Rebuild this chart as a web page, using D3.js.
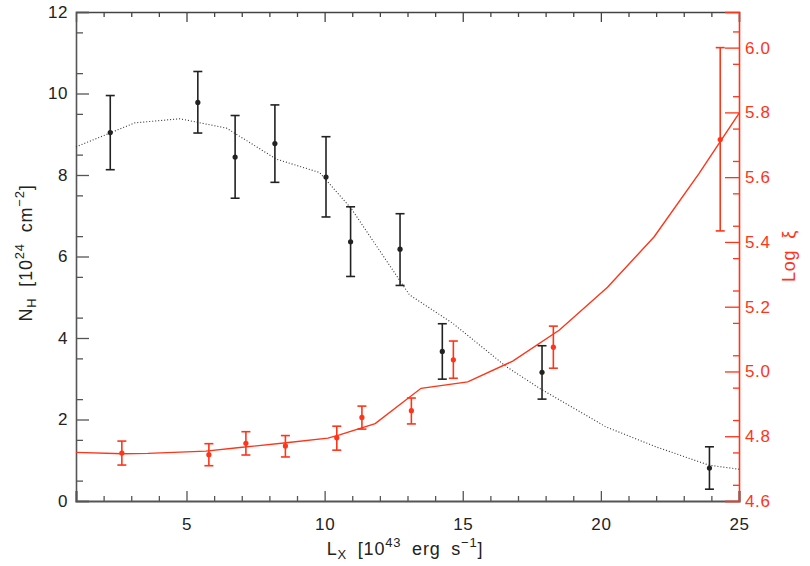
<!DOCTYPE html>
<html>
<head>
<meta charset="utf-8">
<style>
  body { margin: 0; background: #fff; }
  svg text { font-family: "Liberation Sans", Arial, sans-serif; }
  .tick text { font-size: 17px; letter-spacing: 0.6px; }
  .title { letter-spacing: 0.8px; word-spacing: 5px; }
</style>
<script src="https://cdn.jsdelivr.net/npm/d3@7"></script>
</head>
<body>
<div id="chart"></div>
<script>
// N_H measurements (black, left axis)
var nhL   = [2.24, 5.41, 6.76, 8.20, 10.05, 10.94, 12.73, 14.26, 17.87, 23.93];
var nhVal = [9.04, 9.78, 8.44, 8.77, 7.95, 6.36, 6.18, 3.67, 3.16, 0.81];
var nhLo  = [8.13, 9.03, 7.43, 7.82, 6.97, 5.51, 5.29, 2.99, 2.50, 0.29];
var nhHi  = [9.95, 10.54, 9.46, 9.72, 8.94, 7.22, 7.05, 4.35, 3.81, 1.33];

// log xi measurements (red, right axis)
var xiL   = [2.66, 5.81, 7.15, 8.58, 10.44, 11.35, 13.14, 14.66, 18.28, 24.32];
var xiVal = [4.748, 4.743, 4.778, 4.770, 4.795, 4.858, 4.879, 5.036, 5.075, 5.716];
var xiLo  = [4.711, 4.709, 4.742, 4.736, 4.757, 4.822, 4.838, 4.979, 5.010, 5.434];
var xiHi  = [4.785, 4.777, 4.814, 4.802, 4.831, 4.893, 4.918, 5.094, 5.140, 6.000];

// model curves
var nhModelL = [1.0, 3.13, 4.76, 6.45, 8.25, 9.82, 10.96, 13.07, 14.64, 16.57, 17.77, 20.18, 21.99, 23.91, 25.0];
var nhModel  = [8.69, 9.28, 9.38, 9.15, 8.39, 8.06, 7.18, 5.06, 4.36, 3.30, 2.77, 1.82, 1.33, 0.88, 0.78];
var xiModelL = [1.0, 2.7, 3.6, 5.7, 6.93, 8.61, 10.12, 10.54, 11.83, 13.49, 15.18, 16.81, 18.5, 20.24, 21.93, 23.55, 25.0];
var xiModel  = [4.750, 4.746, 4.747, 4.754, 4.765, 4.780, 4.794, 4.804, 4.839, 4.948, 4.968, 5.032, 5.128, 5.260, 5.416, 5.611, 5.797];

// ticks
var xTicks = [5, 10, 15, 20, 25];
var yLTicks = [0, 2, 4, 6, 8, 10, 12];
var yRTicks = [4.6, 4.8, 5.0, 5.2, 5.4, 5.6, 5.8, 6.0];

var red = "#ff3418", ink = "#222";
var width = 810, height = 566;
var margin = {top: 12, right: 71, bottom: 65, left: 76};

var svg = d3.select("#chart").append("svg")
  .attr("width", width).attr("height", height);

var x = d3.scaleLinear().domain([1, 25]).range([margin.left, width - margin.right]);
var yL = d3.scaleLinear().domain([0, 12]).range([height - margin.bottom, margin.top]);
var yR = d3.scaleLinear().domain([4.6, 6.11]).range([height - margin.bottom, margin.top]);

var xMinor = d3.range(2, 25, 1).filter(function(v){ return v % 5 != 0; });
var yLMinor = d3.range(0.5, 12, 1);
var yRMinor = d3.range(4.65, 6.11, 0.1);

function styleAxis(g, col, w){
  g.select(".domain").attr("stroke", col).attr("stroke-width", w);
  g.selectAll(".tick line").attr("stroke", col).attr("stroke-width", 1.3);
  g.selectAll(".tick text").attr("fill", col);
}

// bottom
var gb = svg.append("g").attr("transform", "translate(0," + yL(0) + ")");
gb.call(d3.axisBottom(x).tickValues(xTicks).tickSize(-10).tickPadding(17).tickFormat(d3.format("d")));
gb.append("g").call(d3.axisBottom(x).tickValues(xMinor).tickSize(-5).tickFormat(""))
  .select(".domain").remove();
styleAxis(gb, "#555", 2.2);
gb.selectAll(".tick text").attr("fill", ink);

// top
var gt = svg.append("g").attr("transform", "translate(0," + margin.top + ")");
gt.call(d3.axisTop(x).tickValues(xTicks).tickSize(-10).tickFormat(""));
gt.append("g").call(d3.axisTop(x).tickValues(xMinor).tickSize(-5).tickFormat(""))
  .select(".domain").remove();
styleAxis(gt, "#444", 1.4);

// left
var gl = svg.append("g").attr("transform", "translate(" + margin.left + ",0)");
gl.call(d3.axisLeft(yL).tickValues(yLTicks).tickSize(-13).tickPadding(8).tickFormat(d3.format("d")));
gl.append("g").call(d3.axisLeft(yL).tickValues(yLMinor).tickSize(-7).tickFormat(""))
  .select(".domain").remove();
styleAxis(gl, "#555", 1.6);
gl.selectAll(".tick text").attr("fill", ink);

// right
var gr = svg.append("g").attr("transform", "translate(" + (width - margin.right) + ",0)");
gr.call(d3.axisRight(yR).tickValues(yRTicks).tickSize(-14).tickPadding(6).tickFormat(d3.format(".1f")));
gr.append("g").call(d3.axisRight(yR).tickValues(yRMinor).tickSize(-6).tickFormat(""))
  .select(".domain").remove();
styleAxis(gr, red, 1.6);

// model lines
var nhLine = d3.line().x(function(d){ return x(d[0]); }).y(function(d){ return yL(d[1]); });
var xiLine = d3.line().x(function(d){ return x(d[0]); }).y(function(d){ return yR(d[1]); });

svg.append("path")
  .datum(d3.zip(nhModelL, nhModel))
  .attr("d", nhLine)
  .attr("fill", "none").attr("stroke", "#333").attr("stroke-width", 1.1)
  .attr("stroke-dasharray", "1,2");

svg.append("path")
  .datum(d3.zip(xiModelL, xiModel))
  .attr("d", xiLine)
  .attr("fill", "none").attr("stroke", red).attr("stroke-width", 1.4);

// error bars + points
function errSeries(ls, vals, lo, hi, y, col){
  var data = ls.map(function(l, i){ return {l: l, v: vals[i], lo: lo[i], hi: hi[i]}; });
  var g = svg.append("g");
  var cap = 4.5;
  g.selectAll(".eb").data(data).enter().append("line")
    .attr("x1", function(d){ return x(d.l); }).attr("x2", function(d){ return x(d.l); })
    .attr("y1", function(d){ return y(d.lo); }).attr("y2", function(d){ return y(d.hi); })
    .attr("stroke", col).attr("stroke-width", 1.6);
  g.selectAll(".cl").data(data).enter().append("line")
    .attr("x1", function(d){ return x(d.l) - cap; }).attr("x2", function(d){ return x(d.l) + cap; })
    .attr("y1", function(d){ return y(d.lo); }).attr("y2", function(d){ return y(d.lo); })
    .attr("stroke", col).attr("stroke-width", 1.6);
  g.selectAll(".ch").data(data).enter().append("line")
    .attr("x1", function(d){ return x(d.l) - cap; }).attr("x2", function(d){ return x(d.l) + cap; })
    .attr("y1", function(d){ return y(d.hi); }).attr("y2", function(d){ return y(d.hi); })
    .attr("stroke", col).attr("stroke-width", 1.6);
  g.selectAll("circle").data(data).enter().append("circle")
    .attr("cx", function(d){ return x(d.l); }).attr("cy", function(d){ return y(d.v); })
    .attr("r", 2.6).attr("fill", col);
}
errSeries(nhL, nhVal, nhLo, nhHi, yL, ink);
errSeries(xiL, xiVal, xiLo, xiHi, yR, red);

// axis titles
var fs = 18;
var xt = svg.append("text").attr("class", "title").attr("x", 405).attr("y", 555)
  .attr("text-anchor", "middle").attr("font-size", fs).attr("fill", ink);
xt.append("tspan").text("L");
xt.append("tspan").attr("dy", 4).attr("font-size", 13).text("X");
xt.append("tspan").attr("dy", -4).text(" [10");
xt.append("tspan").attr("dy", -8).attr("font-size", 13).text("43");
xt.append("tspan").attr("dy", 8).text(" erg s");
xt.append("tspan").attr("dy", -8).attr("font-size", 13).text("\u22121");
xt.append("tspan").attr("dy", 8).text("]");

var yt = svg.append("text").attr("class", "title").attr("transform", "translate(32,253) rotate(-90)")
  .attr("text-anchor", "middle").attr("font-size", fs).attr("fill", ink);
yt.append("tspan").text("N");
yt.append("tspan").attr("dy", 4).attr("font-size", 13).text("H");
yt.append("tspan").attr("dy", -4).text(" [10");
yt.append("tspan").attr("dy", -8).attr("font-size", 13).text("24");
yt.append("tspan").attr("dy", 8).text(" cm");
yt.append("tspan").attr("dy", -8).attr("font-size", 13).text("\u22122");
yt.append("tspan").attr("dy", 8).text("]");

svg.append("text").attr("class", "title").attr("transform", "translate(795,256) rotate(-90)")
  .attr("text-anchor", "middle").attr("font-size", fs).attr("fill", red)
  .text("Log \u03be");
</script>
</body>
</html>
